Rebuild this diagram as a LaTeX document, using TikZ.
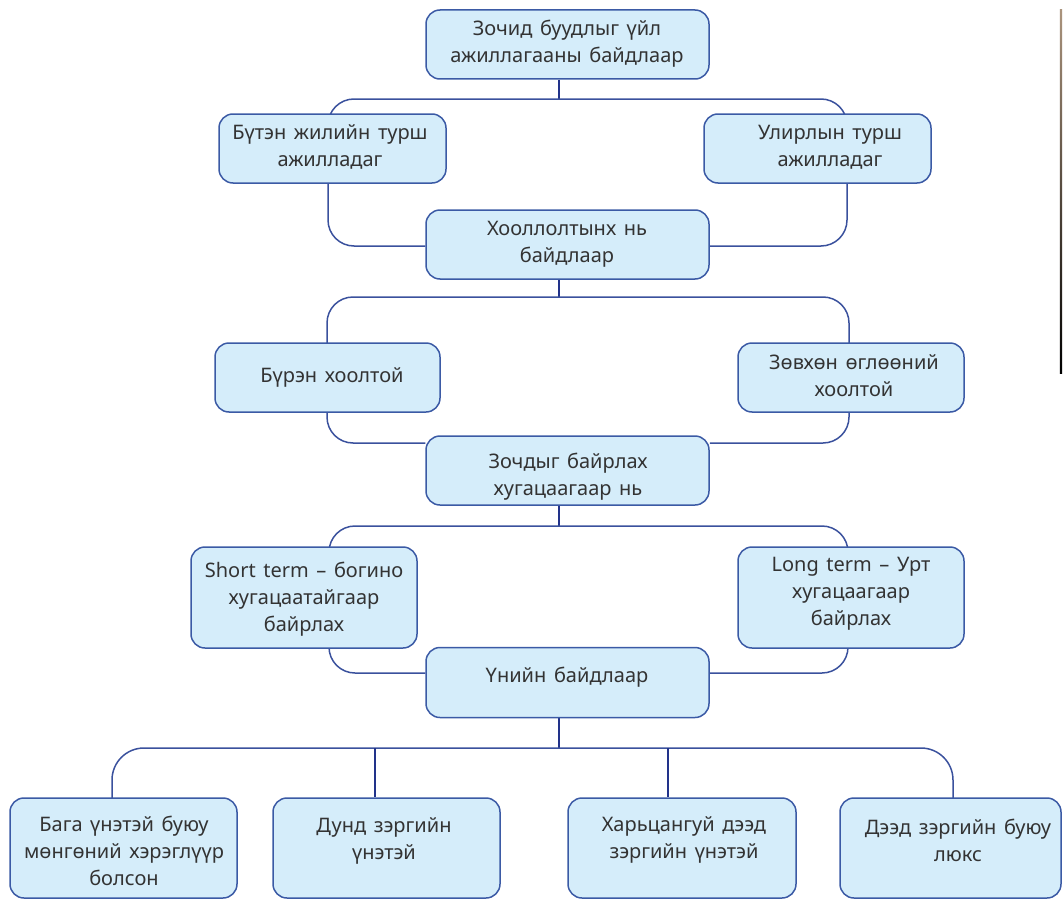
\documentclass[tikz,border=0pt]{standalone}
\usepackage{fontspec}
\setmainfont{Noto Sans}
\pgfdeclarelayer{bg}
\pgfsetlayers{bg,main}
\definecolor{boxfill}{HTML}{D5EDFA}
\definecolor{boxline}{HTML}{3B5AA5}
\definecolor{connline}{HTML}{3A519D}
\definecolor{spineline}{HTML}{22338A}
\definecolor{txtcol}{HTML}{333333}
\newcommand\mywidespace{\spaceskip=0.38em\relax}
\begin{document}
\begin{tikzpicture}[x=1pt,y=-1pt,
  box/.style={draw=boxline, fill=boxfill, line width=1.5pt, rounded corners=14pt, inner sep=0pt},
  txt/.style={font={\fontsize{20}{27}\selectfont\mywidespace}, align=center, text=txtcol, inner sep=0pt},
  conn/.style={draw=connline, line width=1.5pt, rounded corners=26pt},
  spine/.style={draw=spineline, line width=2.3pt}]
\useasboundingbox (0,0) rectangle (1063,899);

% boxes
\node[box, minimum width=283pt, minimum height=69pt] (A) at (567.5,44.5) {};
\node[box, minimum width=227pt, minimum height=69pt] (B1) at (332.5,148.5) {};
\node[box, minimum width=227pt, minimum height=69pt] (B2) at (817.5,148.5) {};
\node[box, minimum width=283pt, minimum height=69pt] (C) at (567.5,244.5) {};
\node[box, minimum width=225pt, minimum height=69pt] (D1) at (327.5,377.5) {};
\node[box, minimum width=226pt, minimum height=69pt] (D2) at (851,377.5) {};
\node[box, minimum width=283pt, minimum height=69pt] (E) at (567.5,470.5) {};
\node[box, minimum width=226pt, minimum height=101pt] (F1) at (304,597.5) {};
\node[box, minimum width=226pt, minimum height=101pt] (F2) at (851,597.5) {};
\node[box, minimum width=283pt, minimum height=70pt] (G) at (567.5,682.5) {};
\node[box, minimum width=227pt, minimum height=100pt] (H1) at (123.5,848) {};
\node[box, minimum width=227pt, minimum height=100pt] (H2) at (386.5,848) {};
\node[box, minimum width=228pt, minimum height=100pt] (H3) at (682,848) {};
\node[box, minimum width=221pt, minimum height=100pt] (H4) at (950.5,848) {};

% texts
\node[txt] (At) at (567,44) {Зочид буудлыг үйл\\ажиллагааны байдлаар};
\node[txt] (B1t) at (330,147) {Бүтэн жилийн турш\\ажилладаг};
\node[txt] (B2t) at (830,147) {Улирлын турш\\ажилладаг};
\node[txt] (Ct) at (567,244) {Хооллолтынх нь\\байдлаар};
\node[txt] (D1t) at (332,377) {Бүрэн хоолтой};
\node[txt] (D2t) at (854,376) {Зөвхөн өглөөний\\хоолтой};
\node[txt] (Et) at (568,477) {Зочдыг байрлах\\хугацаагаар нь};
\node[txt] (F1t) at (304,599) {Short term – богино\\хугацаатайгаар\\байрлах};
\node[txt] (F2t) at (851,594) {Long term – Урт\\хугацаагаар\\байрлах};
\node[txt] (Gt) at (567,677) {Үнийн байдлаар};
\node[txt] (H1t) at (124,851) {Бага үнэтэй буюу\\мөнгөний хэрэглүүр\\болсон};
\node[txt] (H2t) at (384,841) {Дунд зэргийн\\үнэтэй};
\node[txt] (H3t) at (684,840) {Харьцангуй дээд\\зэргийн үнэтэй};
\node[txt] (H4t) at (958,840) {Дээд зэргийн буюу\\люкс};

% junction coordinates
\coordinate (j1) at (559,99);  \coordinate (l1) at (328,0); \coordinate (r1) at (847,0); \coordinate (k1) at (0,246);
\coordinate (j2) at (559,297); \coordinate (l2) at (327,0); \coordinate (r2) at (849,0); \coordinate (k2) at (0,443);
\coordinate (j3) at (559,526); \coordinate (l3) at (329,0); \coordinate (r3) at (848,0); \coordinate (k3) at (0,673);
\coordinate (j4) at (559,748);
\coordinate (h1x) at (112,0); \coordinate (h2x) at (375,0); \coordinate (h3x) at (668,0); \coordinate (h4x) at (953,0);

\begin{pgfonlayer}{bg}
  % level 1
  \draw[spine] (A.south -| j1) -- (j1);
  \draw[conn] (B1.center -| l1) |- (j1) -| (B2.center -| r1);
  \draw[conn] (B1.center -| l1) |- (C.west |- k1);
  \draw[conn] (B2.center -| r1) |- (C.east |- k1);
  % level 2
  \draw[spine] (C.south -| j2) -- (j2);
  \draw[conn] (D1.center -| l2) |- (j2) -| (D2.center -| r2);
  \draw[conn] (D1.center -| l2) |- (E.west |- k2);
  \draw[conn] (D2.center -| r2) |- (E.east |- k2);
  % level 3
  \draw[spine] (E.south -| j3) -- (j3);
  \draw[conn] (F1.center -| l3) |- (j3) -| (F2.center -| r3);
  \draw[conn] (F1.center -| l3) |- (G.west |- k3);
  \draw[conn] (F2.center -| r3) |- (G.east |- k3);
  % level 4
  \draw[spine] (G.south -| j4) -- (j4);
  \draw[conn, rounded corners=32pt] (H1.center -| h1x) |- (j4) -| (H4.center -| h4x);
  \draw[spine] (j4 -| h2x) -- (H2.north -| h2x);
  \draw[spine] (j4 -| h3x) -- (H3.north -| h3x);
\end{pgfonlayer}

% scan edge line at right
\fill[top color=black!40!brown!60, bottom color=black] (1059.8,10) rectangle (1062,373);
\end{tikzpicture}
\end{document}
